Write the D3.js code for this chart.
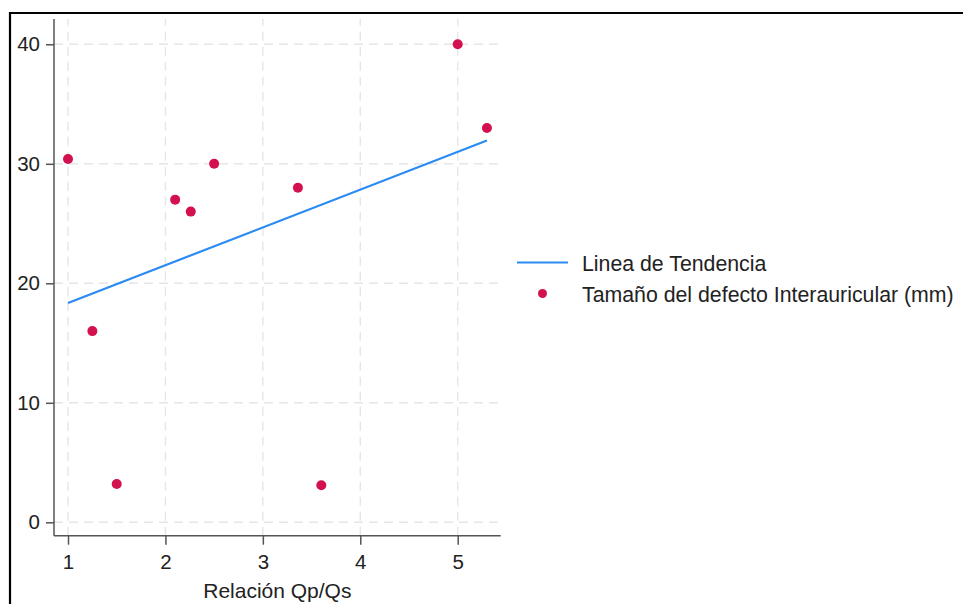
<!DOCTYPE html>
<html>
<head>
<meta charset="utf-8">
<script src="https://cdn.jsdelivr.net/npm/d3@7"></script>
<style>
  body { margin: 0; background: #fff; }
  text { font-family: "Liberation Sans", Arial, sans-serif; fill: #222; }
</style>
</head>
<body>
<div id="chart"></div>
<script>
// Relación Qp/Qs vs tamaño del defecto
const qpqs = [1.0, 1.25, 1.5, 2.1, 2.26, 2.5, 3.36, 3.6, 5.0, 5.3];
const defecto = [30.4, 16, 3.2, 27, 26, 30, 28, 3.1, 40, 33];
const trendX = [1.0, 5.3];
const trendY = [18.35, 31.95];
const xTicks = [1, 2, 3, 4, 5];
const yTicks = [0, 10, 20, 30, 40];
const legendLabels = ["Linea de Tendencia", "Tamaño del defecto Interauricular (mm)"];

const width = 963;
const height = 604;
const plot = { left: 54, right: 500.7, top: 19, bottom: 535.7 };

const pointColor = "#d3114f";
const lineColor = "#2b8bf2";

const svg = d3.select("#chart")
    .append("svg")
    .attr("width", width)
    .attr("height", height);

// outer frame (left and top edges visible)
svg.append("path")
    .attr("d", `M10,${height + 5} L10,13 L${width + 5},13`)
    .attr("fill", "none")
    .attr("stroke", "#000")
    .attr("stroke-width", 2.2);

const x = d3.scaleLinear()
    .domain([1, 5])
    .range([68, 457.7]);

const y = d3.scaleLinear()
    .domain([0, 40])
    .range([522.3, 44.3]);

// grid
const grid = svg.append("g")
    .attr("stroke", "#e6e6e6")
    .attr("stroke-width", 1.4)
    .attr("stroke-dasharray", "9,6");

grid.selectAll(".gx")
    .data(xTicks)
    .enter()
    .append("line")
    .attr("x1", d => x(d)).attr("x2", d => x(d))
    .attr("y1", plot.bottom).attr("y2", plot.top);

grid.selectAll(".gy")
    .data(yTicks)
    .enter()
    .append("line")
    .attr("y1", d => y(d)).attr("y2", d => y(d))
    .attr("x1", plot.left).attr("x2", plot.right);

// axes
const xAxis = d3.axisBottom(x)
    .tickValues(xTicks)
    .tickFormat(d3.format("d"))
    .tickSize(9)
    .tickPadding(10)
    .tickSizeOuter(0);

const yAxis = d3.axisLeft(y)
    .tickValues(yTicks)
    .tickFormat(d3.format("d"))
    .tickSize(8)
    .tickPadding(6)
    .tickSizeOuter(0);

const gx = svg.append("g")
    .attr("transform", `translate(0,${plot.bottom})`)
    .call(xAxis);
gx.select(".domain").attr("d", `M${plot.left},0H${plot.right}`);

const gy = svg.append("g")
    .attr("transform", `translate(${plot.left},0)`)
    .call(yAxis);
gy.select(".domain").attr("d", `M0,${plot.top}V${plot.bottom}`);

svg.selectAll(".domain, .tick line")
    .attr("stroke", "#555")
    .attr("stroke-width", 1.5);
svg.selectAll("g.tick text")
    .style("font-size", "20.5px")
    .style("fill", "#222");

// axis title
svg.append("text")
    .attr("x", (plot.left + plot.right) / 2)
    .attr("y", 597.5)
    .attr("text-anchor", "middle")
    .style("font-size", "21px")
    .text("Relación Qp/Qs");

// trend line
svg.append("path")
    .datum(trendX.map((d, i) => [d, trendY[i]]))
    .attr("fill", "none")
    .attr("stroke", lineColor)
    .attr("stroke-width", 2.2)
    .attr("d", d3.line().x(d => x(d[0])).y(d => y(d[1])));

// points
svg.selectAll("circle.pt")
    .data(qpqs.map((d, i) => ({ x: d, y: defecto[i] })))
    .enter()
    .append("circle")
    .attr("class", "pt")
    .attr("cx", d => x(d.x))
    .attr("cy", d => y(d.y))
    .attr("r", 5)
    .attr("fill", pointColor);

// legend
const legend = svg.append("g");
legend.append("line")
    .attr("x1", 517).attr("x2", 568)
    .attr("y1", 262.5).attr("y2", 262.5)
    .attr("stroke", lineColor)
    .attr("stroke-width", 2.2);
legend.append("circle")
    .attr("cx", 542.5).attr("cy", 293.5)
    .attr("r", 4.5)
    .attr("fill", pointColor);
legend.selectAll("text")
    .data(legendLabels)
    .enter()
    .append("text")
    .attr("x", 582)
    .attr("y", (d, i) => 270.8 + i * 31)
    .style("font-size", "21.3px")
    .text(d => d);
</script>
</body>
</html>
